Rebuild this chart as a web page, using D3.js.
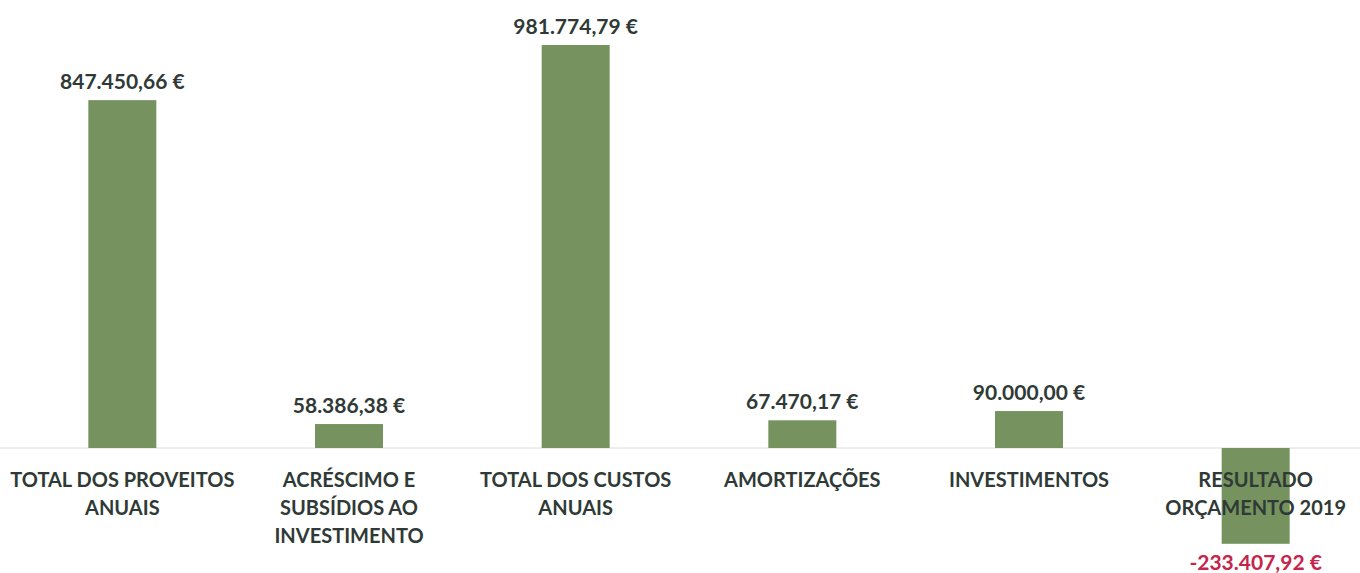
<!DOCTYPE html>
<html>
<head>
<meta charset="utf-8">
<script src="https://cdn.jsdelivr.net/npm/d3@7"></script>
<style>
  body { margin: 0; background: #fff; }
  svg { display: block; }
  text { font-family: Lato, "Open Sans", sans-serif; font-weight: 700; }
</style>
</head>
<body>
<svg id="chart"></svg>
<script>
const categories = [
  ["TOTAL DOS PROVEITOS", "ANUAIS"],
  ["ACRÉSCIMO E", "SUBSÍDIOS AO", "INVESTIMENTO"],
  ["TOTAL DOS CUSTOS", "ANUAIS"],
  ["AMORTIZAÇÕES"],
  ["INVESTIMENTOS"],
  ["RESULTADO", "ORÇAMENTO 2019"]
];
const values = [847450.66, 58386.38, 981774.79, 67470.17, 90000.0, -233407.92];
const valueLabels = [
  "847.450,66 €", "58.386,38 €", "981.774,79 €",
  "67.470,17 €", "90.000,00 €", "-233.407,92 €"
];

const width = 1360, height = 573;
const svg = d3.select("#chart").attr("width", width).attr("height", height);

const x = d3.scaleBand()
  .domain(d3.range(values.length))
  .range([9, 1369])
  .paddingInner(0.7)
  .paddingOuter(0.35);

const y = d3.scaleLinear()
  .domain([0, 981774.79])
  .range([448, 45]);

// zero line
svg.append("line")
  .attr("x1", 0).attr("x2", width)
  .attr("y1", y(0)).attr("y2", y(0))
  .attr("stroke", "#dcdcdc")
  .attr("stroke-width", 1);

// bars
svg.selectAll("rect.bar")
  .data(values)
  .enter()
  .append("rect")
  .attr("class", "bar")
  .attr("x", (d, i) => x(i))
  .attr("width", x.bandwidth())
  .attr("y", (d) => y(Math.max(0, d)))
  .attr("height", (d) => Math.abs(y(d) - y(0)))
  .attr("fill", "#76935f");

// category labels
const cat = svg.selectAll("text.cat")
  .data(categories)
  .enter()
  .append("text")
  .attr("class", "cat")
  .attr("text-anchor", "middle")
  .attr("fill", "#2f3a37")
  .attr("font-size", 20);

cat.selectAll("tspan")
  .data((d, i) => d.map((line) => ({ line, i })))
  .enter()
  .append("tspan")
  .attr("x", (d) => x(d.i) + x.bandwidth() / 2)
  .attr("y", (d, j) => 487 + j * 28)
  .text((d) => d.line);

// value labels
svg.selectAll("text.val")
  .data(values)
  .enter()
  .append("text")
  .attr("class", "val")
  .attr("text-anchor", "middle")
  .attr("font-size", 21)
  .attr("fill", (d) => (d < 0 ? "#c5254a" : "#2f3a37"))
  .attr("x", (d, i) => x(i) + x.bandwidth() / 2)
  .attr("y", (d) => (d < 0 ? y(d) + 26 : y(d) - 11))
  .text((d, i) => valueLabels[i]);
</script>
</body>
</html>
